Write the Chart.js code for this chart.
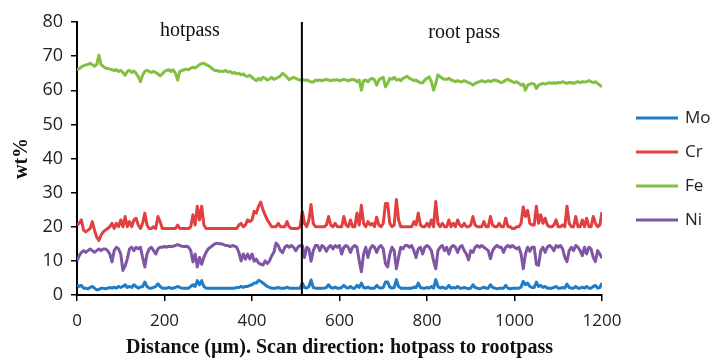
<!DOCTYPE html>
<html>
<head>
<meta charset="utf-8">
<script src="https://cdn.jsdelivr.net/npm/chart.js@4.4.1/dist/chart.umd.min.js"></script>
<style>
  html, body { margin: 0; padding: 0; background: #fff; }
  #wrap { width: 714px; height: 360px; position: relative; }
</style>
</head>
<body>
<div id="wrap"><canvas id="profileChart"></canvas></div>
<script>
// EDS line scan, sampled every 5 µm (0 .. 1200)
const stepUm = 5;
const distance = Array.from({ length: 241 }, (_, i) => i * stepUm);

const mo = [
  3, 2.5, 2.8, 2, 2, 1.8, 2.2, 2.5, 2, 1.5, 1.6, 2, 2, 1.8, 2, 2.2, 2, 2.3, 2, 2.5,
  2.2, 2.5, 3, 2.2, 2.5, 2.2, 3, 2.5, 2, 2.3, 2.5, 3.8, 2.5, 2, 2, 2.2, 2.5, 3.3, 2.5, 2,
  2, 2, 2.2, 2, 2, 2.2, 2.5, 2.2, 2, 2, 2, 2, 2.5, 3, 2.5, 4.2, 3, 4.2, 2.5, 2,
  2, 2, 2, 2, 2, 2, 2, 2, 2, 2, 2, 2, 2, 2.2, 2.2, 2.5, 2.2, 2.5, 2.5, 2.8,
  3, 3.5, 3.5, 4.3, 4, 3.5, 3, 2.5, 2.2, 2, 2, 2, 2.2, 2, 2, 2, 2.3, 2, 2, 2,
  2, 2, 2, 3.5, 2.2, 2, 2.5, 4.4, 2.2, 2, 2, 2, 2, 2, 2.2, 3, 2.2, 2, 2.3, 2,
  2, 2.2, 2.8, 2.2, 2, 2.5, 2, 2, 2.8, 2.2, 3.5, 2.2, 2, 2.3, 2, 2, 2, 2.8, 2.2, 2,
  2.2, 3.8, 3.8, 2.3, 2, 2.2, 4.5, 2.5, 2, 2, 2, 2, 2, 2, 2.3, 2.2, 3.5, 2.2, 2, 2,
  2.2, 2, 2.5, 2, 4.5, 2.5, 2, 2.3, 2, 2, 2.8, 2, 2.2, 2, 2.5, 2, 2, 2.2, 2, 1.8,
  2, 3, 2.2, 2, 1.8, 2, 2.3, 2, 2, 3, 2.2, 2, 1.8, 2, 2, 2, 2.8, 2, 1.8, 2,
  2, 2, 2, 2.3, 4, 3, 3.5, 2.5, 2.2, 2.2, 3.8, 2.5, 2.8, 2.2, 2.5, 2, 2, 2, 2.2, 2.5,
  2, 2, 2.2, 2, 3.2, 2.2, 2, 2, 2.5, 2, 2, 2.3, 2, 2.5, 2, 2, 2.5, 2.8, 2, 2.2,
  3.5
];

const cr = [
  20.5, 21, 22, 19, 18.5, 19, 19.5, 21.5, 19, 17, 16, 17.5, 18.5, 19, 19.5, 20, 21, 19.5, 21, 20,
  22, 20, 23, 20, 21.5, 20, 22, 22.5, 20.5, 19.5, 21, 24, 20.5, 19.5, 19.5, 20, 19.5, 23, 21.5, 19.5,
  19.5, 19.5, 19.5, 19.5, 19.5, 19.5, 20.5, 19.5, 19.5, 19.5, 19.5, 19.5, 20, 23.5, 20.5, 26, 22, 26, 20.5, 19.5,
  19.5, 19.5, 19.5, 19.5, 19.5, 19.5, 19.5, 19.5, 19.5, 19.5, 19.5, 19.5, 19.5, 19.5, 20.5, 21, 20, 20.5, 22, 21.5,
  22, 24.5, 24, 26, 27.2, 25, 23.5, 22, 21, 20, 20, 20, 21, 20, 20, 20, 21.5, 20, 19.5, 19.5,
  19.5, 19.5, 20, 24.5, 21, 20, 22, 26.5, 21, 20, 20, 20, 20, 20, 20.5, 23, 20.5, 20, 21, 20,
  20, 20, 23, 20.5, 20, 22, 20, 20, 24, 20.5, 26.3, 21, 20, 21.5, 20.5, 21, 20, 22.8, 20.5, 20,
  21, 26.8, 26.8, 21, 20, 20.5, 28, 22, 20, 20, 20, 20, 20, 20, 21.5, 20.5, 24, 20.5, 20, 20,
  21, 20, 22, 20, 27.4, 21, 20, 21, 20, 20, 22, 20, 21, 20, 22, 20.5, 20, 21, 20, 20,
  20.5, 23, 20.5, 20, 20, 20, 21.5, 20, 20, 23, 20.5, 20, 20, 21, 20, 20, 22.5, 20, 20, 19.5,
  19.5, 20, 20, 21, 25.8, 23, 24.8, 21, 20.5, 20.5, 26, 21, 23.5, 21, 22.5, 20.5, 20, 20, 20.5, 22,
  20, 20, 20.5, 20, 26, 21, 20, 20, 23, 20, 20, 22, 20, 22.5, 20, 20, 23, 21, 20, 20.5,
  24.3
];

const fe = [
  66, 66.3, 66.8, 67.2, 67.4, 67.6, 67.9, 67.5, 67, 67.5, 70.3, 67.5, 67, 66.5, 66.4, 66.2, 66, 65.8, 66, 65.5,
  65.8, 65.2, 64.4, 65.5, 65.8, 65.2, 65.6, 65, 64, 62.5, 64.5, 65.5, 65.8, 65.5, 65.2, 65.5, 65.2, 64.8, 64.2, 64.8,
  65.5, 65.8, 66, 65.5, 66, 65, 63, 65.5, 65.8, 66, 66.2, 66, 66.5, 66.8, 66.5, 67, 67.5, 67.8, 67.9, 67.5,
  67.2, 66.8, 66.2, 65.8, 65.8, 65.5, 65.6, 65.5, 65.8, 65.3, 65.5, 65, 65.2, 64.8, 65, 64.5, 64.8, 64.2, 64, 64.4,
  63.8, 63.2, 62.8, 63.5, 63, 63.8, 63.5, 63, 63.3, 63.8, 63.2, 63.5, 63.8, 64.2, 65, 64.5, 63.8, 63.1, 63.5, 63.8,
  63.5, 63.2, 63, 63.2, 62.9, 63, 62.8, 62.4, 62.4, 63, 62.8, 63, 62.8, 63, 63.2, 63, 62.8, 63, 63, 63.1,
  62.8, 63, 63.2, 63, 62.8, 63, 63.2, 63, 62.5, 63, 60, 62.8, 63, 62.5, 63.2, 63.5, 63, 61.5, 63, 63.5,
  63.8, 61, 62, 63.5, 63.2, 63.8, 63, 63.2, 62.8, 63.5, 63.8, 64.1, 63.5, 63.2, 62.8, 63, 62.5, 62.2, 62.2, 63,
  63.5, 63.9, 62.5, 60, 62, 64.5, 64, 63.5, 63.2, 63.2, 63.5, 63, 62.8, 62.5, 62.8, 62.5, 62.5, 62.8, 62.5, 62.2,
  62, 61.5, 62, 62.3, 62.5, 62.8, 62.5, 62.5, 62.8, 62.5, 62.8, 63, 62.8, 62.5, 62.2, 62.5, 63, 63.2, 62.8, 62.5,
  62.2, 62.5, 62, 61.5, 61.8, 60, 61.5, 61.8, 62, 61.8, 60.5, 61.5, 61.8, 62, 61.8, 62, 62.2, 62, 62.2, 62,
  62.3, 62.2, 62.5, 62.2, 62, 62.3, 62.2, 62, 62.3, 62.5, 62.2, 62.5, 62.4, 62.5, 62.8, 62.5, 62.2, 62.5, 62, 61.5,
  61
];

const ni = [
  10, 11.5, 12.5, 13, 12.5, 13, 13.5, 13, 12.5, 13, 13.5, 13, 13.5, 13.5, 13, 12, 9.7, 13, 14, 13.5,
  12, 7.2, 8.5, 10.6, 13.5, 14, 13, 14, 13.5, 14, 11, 8.2, 12, 13.5, 14, 13, 12, 13.5, 14, 14,
  14.2, 14, 14.3, 14.2, 14.3, 14.5, 14.8, 14.5, 14.3, 14.2, 14.3, 14, 13, 9.7, 12, 8.2, 11, 9, 11, 12.5,
  13.5, 14, 14.5, 15, 15.2, 15, 15, 14.8, 14.5, 14.5, 14.2, 14.5, 14.3, 14, 12.5, 10, 12, 10.5, 12, 10.6,
  12, 9.9, 10.5, 9.4, 9, 8.8, 10, 9.2, 10, 11.5, 12.5, 15.2, 14.5, 13, 12.4, 14, 14.5, 14, 14.5, 14,
  13, 14, 14.5, 14.5, 11, 14, 13.5, 9.9, 13, 14.5, 14.5, 13, 14.5, 14, 12.8, 14, 14.5, 13.5, 14.5, 14,
  14.5, 12, 14, 14.5, 14, 12.5, 14, 14.5, 14, 10, 6.8, 12, 14, 11, 13.5, 14.5, 14, 12.5, 14, 14.5,
  13.5, 9.2, 8.2, 12, 14, 13, 7.7, 11, 14, 13.5, 14.5, 14.5, 14, 14.5, 13, 11, 13.5, 14, 12, 14,
  14.5, 14, 13, 10, 7.7, 13, 14, 14.5, 13, 14, 12, 14, 14.5, 14, 12.5, 14, 14.5, 13, 12, 10.3,
  13, 12.5, 14, 14.5, 14, 14.5, 14, 13.5, 13, 10.6, 13, 14, 14.5, 14, 14, 12.5, 14, 14.5, 14, 14.5,
  14, 13.5, 14, 12, 7.7, 12, 14, 12.8, 14, 14, 9, 8.7, 13, 14, 12.5, 14, 14.5, 14, 13, 14.5,
  14, 14.5, 13.5, 11, 9.8, 13, 14, 13, 14.5, 14, 13, 11.5, 14, 12, 14, 13.5, 11, 9.8, 13, 12,
  10.8
];

const seriesNames = ['Mo', 'Cr', 'Fe', 'Ni'];
const seriesColors = ['#1f7cc6', '#e0403f', '#83bf45', '#7f56a6'];
const xTicks = [0, 200, 400, 600, 800, 1000, 1200];
const yTicks = [0, 10, 20, 30, 40, 50, 60, 70, 80];

// boundary between the two weld passes and the labels above each zone
const passBoundary = 514;
const passLabels = [
  { text: 'hotpass', x: 258, y: 77.3 },
  { text: 'root pass', x: 885, y: 76.8 }
];

function toPoints(values) {
  return values.map((v, i) => ({ x: distance[i], y: v }));
}

const passMarks = {
  id: 'passMarks',
  afterDatasetsDraw(chart) {
    const { ctx, scales: { x, y } } = chart;
    const bx = x.getPixelForValue(passBoundary);
    ctx.save();
    ctx.strokeStyle = '#000';
    ctx.lineWidth = 2;
    ctx.beginPath();
    ctx.moveTo(bx, y.getPixelForValue(80));
    ctx.lineTo(bx, y.getPixelForValue(0));
    ctx.stroke();

    ctx.fillStyle = '#111';
    ctx.font = '20px "Liberation Serif", "DejaVu Serif", serif';
    ctx.textAlign = 'center';
    ctx.textBaseline = 'middle';
    passLabels.forEach(l => {
      ctx.fillText(l.text, x.getPixelForValue(l.x), y.getPixelForValue(l.y));
    });
    ctx.restore();
  },
  afterDraw(chart) {
    // legend on the right, line swatches like the original
    const ctx = chart.ctx;
    ctx.save();
    ctx.font = '17px "Open Sans", sans-serif';
    ctx.textBaseline = 'middle';
    ctx.textAlign = 'left';
    ctx.lineWidth = 3;
    chart.data.datasets.forEach((ds, i) => {
      const ly = 118 + i * 34;
      ctx.strokeStyle = ds.borderColor;
      ctx.beginPath();
      ctx.moveTo(636, ly);
      ctx.lineTo(678, ly);
      ctx.stroke();
      ctx.fillStyle = '#222';
      ctx.fillText(ds.label, 685, ly);
    });
    ctx.restore();
  }
};

const allSeries = [mo, cr, fe, ni];

new Chart(document.getElementById('profileChart'), {
  type: 'line',
  data: {
    datasets: allSeries.map((vals, i) => ({
      label: seriesNames[i],
      data: toPoints(vals),
      borderColor: seriesColors[i],
      backgroundColor: seriesColors[i],
      borderWidth: 3,
      pointRadius: 0,
      tension: 0,
      borderJoinStyle: 'round'
    }))
  },
  options: {
    responsive: true,
    maintainAspectRatio: false,
    animation: false,
    layout: { padding: { top: 22, right: 112, left: 0, bottom: 0 } },
    plugins: {
      legend: { display: false },
      tooltip: { enabled: false }
    },
    scales: {
      x: {
        type: 'linear',
        min: 0,
        max: 1200,
        afterFit(scale) { scale.height = 65; },
        afterBuildTicks(scale) { scale.ticks = xTicks.map(v => ({ value: v })); },
        grid: { drawOnChartArea: false, drawTicks: true, tickLength: 6, color: '#000', lineWidth: 1.5 },
        border: { color: '#000', width: 2 },
        ticks: {
          color: '#222',
          padding: 10,
          maxRotation: 0,
          callback: v => String(v),
          font: { family: '"Open Sans", sans-serif', size: 17 }
        },
        title: {
          display: true,
          text: 'Distance (µm). Scan direction: hotpass to rootpass',
          color: '#111',
          font: { family: '"Liberation Serif", serif', size: 20, weight: 'bold' },
          padding: { top: 0, bottom: 0 }
        }
      },
      y: {
        min: 0,
        max: 80,
        afterFit(scale) { scale.width = 77; },
        afterBuildTicks(scale) { scale.ticks = yTicks.map(v => ({ value: v })); },
        grid: { drawOnChartArea: false, drawTicks: true, tickLength: 6, color: '#000', lineWidth: 1.5 },
        border: { color: '#000', width: 2 },
        ticks: {
          color: '#222',
          padding: 8,
          font: { family: '"Open Sans", sans-serif', size: 18 }
        },
        title: {
          display: true,
          text: 'wt%',
          color: '#111',
          font: { family: '"Liberation Serif", serif', size: 20, weight: 'bold' },
          padding: { top: 10, bottom: 0 }
        }
      }
    }
  },
  plugins: [passMarks]
});
</script>
</body>
</html>
